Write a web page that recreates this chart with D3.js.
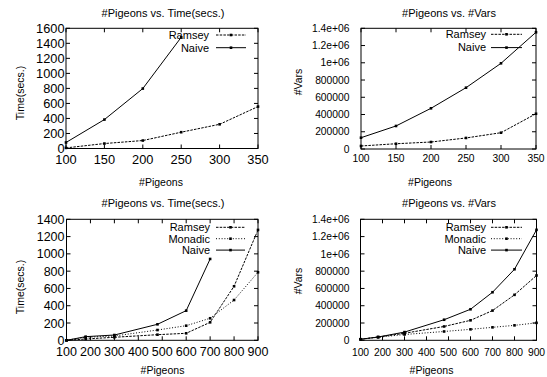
<!DOCTYPE html>
<html>
<head>
<meta charset="utf-8">
<script src="https://cdn.jsdelivr.net/npm/d3@7"></script>
<style>
  body { margin: 0; background: #fff; }
  svg { font-family: "Liberation Sans", Arial, sans-serif; }
</style>
</head>
<body>
<div id="chart"></div>
<script>
// values
var pigeonsTop = [100, 150, 200, 250, 300, 350];
var timeRamseyTop = [8, 66, 106, 217, 322, 558];
var timeNaiveTop = [80, 385, 798, 1480];
var varsRamseyTop = [35000, 61000, 81000, 128000, 189000, 409000];
var varsNaiveTop = [131000, 267000, 472000, 711000, 994000, 1354000];

var pigeonsBottom = [100, 180, 300, 480, 600, 700, 800, 900];
var timeRamseyBottom = [0, 15, 35, 65, 81, 208, 625, 1277];
var timeMonadicBottom = [0, 35, 50, 119, 169, 255, 466, 787];
var timeNaiveBottom = [0, 42, 61, 185, 343, 941];
var varsRamseyBottom = [12000, 38000, 81000, 160000, 231000, 344000, 526000, 750000];
var varsMonadicBottom = [12000, 35000, 67000, 102000, 127000, 150000, 173000, 202000];
var varsNaiveBottom = [12000, 38000, 95000, 238000, 359000, 556000, 822000, 1278000];

var xTicksTop = [100, 150, 200, 250, 300, 350];
var xTicksBottom = [100, 200, 300, 400, 500, 600, 700, 800, 900];
var timeTicksTop = [0, 200, 400, 600, 800, 1000, 1200, 1400, 1600];
var timeTicksBottom = [0, 200, 400, 600, 800, 1000, 1200, 1400];
var varsTicks = [0, 200000, 400000, 600000, 800000, 1000000, 1200000, 1400000];
var varsTickLabels = ["0", "200000", "400000", "600000", "800000", "1e+06", "1.2e+06", "1.4e+06"];

var dashes = {Ramsey: "2.5,1.2", Monadic: "1,1.8", Naive: null};

var svg = d3.select("#chart").append("svg")
    .attr("width", 547)
    .attr("height", 377);

function panel(o) {
    var g = svg.append("g");
    var x = d3.scaleLinear().domain(o.xDomain).range([o.left, o.right]);
    var y = d3.scaleLinear().domain(o.yDomain).range([o.bottom, o.top]);

    // inside ticks on all four sides
    var tk = 4;
    o.xTicks.forEach(function(t) {
        g.append("line").attr("x1", x(t)).attr("x2", x(t)).attr("y1", o.bottom).attr("y2", o.bottom - tk).attr("stroke", "#000");
        g.append("line").attr("x1", x(t)).attr("x2", x(t)).attr("y1", o.top).attr("y2", o.top + tk).attr("stroke", "#000");
        g.append("text").attr("x", x(t)).attr("y", o.xLabelY)
            .attr("text-anchor", "middle").attr("font-size", o.tickSize)
            .text(t);
    });
    o.yTicks.forEach(function(t, i) {
        g.append("line").attr("x1", o.left).attr("x2", o.left + tk).attr("y1", y(t)).attr("y2", y(t)).attr("stroke", "#000");
        g.append("line").attr("x1", o.right).attr("x2", o.right - tk).attr("y1", y(t)).attr("y2", y(t)).attr("stroke", "#000");
        g.append("text").attr("x", o.yLabelX).attr("y", y(t) + o.tickSize * 0.36)
            .attr("text-anchor", "end").attr("font-size", o.tickSize)
            .text(o.yTickLabels ? o.yTickLabels[i] : t);
    });

    g.append("rect").attr("x", o.left).attr("y", o.top)
        .attr("width", o.right - o.left).attr("height", o.bottom - o.top)
        .attr("fill", "none").attr("stroke", "#000");

    var line = d3.line().x(function(d) { return x(d[0]); }).y(function(d) { return y(d[1]); });

    o.series.forEach(function(s, k) {
        var pts = s.values.map(function(v, i) { return [o.xs[i], v]; });
        g.append("path").datum(pts).attr("d", line)
            .attr("fill", "none").attr("stroke", "#000").attr("stroke-width", 1)
            .attr("stroke-dasharray", dashes[s.name]);
        g.selectAll(null).data(pts).enter().append("rect")
            .attr("x", function(d) { return x(d[0]) - 1.3; })
            .attr("y", function(d) { return y(d[1]) - 1.3; })
            .attr("width", 2.6).attr("height", 2.6).attr("fill", "#000");

        // legend entry
        var ly = o.legendY + k * o.legendStep;
        g.append("text").attr("x", o.legendText).attr("y", ly + 3.8)
            .attr("text-anchor", "end").attr("font-size", 11).text(s.name);
        g.append("line").attr("x1", o.legendLine[0]).attr("x2", o.legendLine[1])
            .attr("y1", ly).attr("y2", ly).attr("stroke", "#000")
            .attr("stroke-dasharray", dashes[s.name]);
        g.append("rect").attr("x", (o.legendLine[0] + o.legendLine[1]) / 2 - 1.3).attr("y", ly - 1.3)
            .attr("width", 2.6).attr("height", 2.6).attr("fill", "#000");
    });

    g.append("text").attr("x", o.titleX).attr("y", o.titleY)
        .attr("text-anchor", "middle").attr("font-size", 11).text(o.title);
    g.append("text").attr("x", o.xTitleX).attr("y", o.xTitleY)
        .attr("text-anchor", "middle").attr("font-size", 10.5).text("#Pigeons");
    g.append("text").attr("transform", "translate(" + o.yTitle[0] + "," + o.yTitle[1] + ") rotate(-90)")
        .attr("text-anchor", "middle").attr("font-size", 10.5).text(o.yTitleText);
}

panel({
    left: 66, right: 258, top: 28.3, bottom: 148.5,
    xDomain: [100, 350], yDomain: [0, 1600],
    xTicks: xTicksTop, yTicks: timeTicksTop,
    tickSize: 12.8, xLabelY: 163.5, yLabelX: 64.5,
    xs: pigeonsTop,
    series: [{name: "Ramsey", values: timeRamseyTop}, {name: "Naive", values: timeNaiveTop}],
    legendText: 209, legendLine: [216, 246], legendY: 35, legendStep: 12.7,
    title: "#Pigeons vs. Time(secs.)", titleX: 163, titleY: 17,
    xTitleX: 161, xTitleY: 186, yTitle: [24, 93], yTitleText: "Time(secs.)"
});

panel({
    left: 361, right: 536, top: 28.3, bottom: 149,
    xDomain: [100, 350], yDomain: [0, 1400000],
    xTicks: xTicksTop, yTicks: varsTicks, yTickLabels: varsTickLabels,
    tickSize: 10.3, xLabelY: 162, yLabelX: 349.5,
    xs: pigeonsTop,
    series: [{name: "Ramsey", values: varsRamseyTop}, {name: "Naive", values: varsNaiveTop}],
    legendText: 486, legendLine: [491, 522], legendY: 34.3, legendStep: 13.3,
    title: "#Pigeons vs. #Vars", titleX: 449, titleY: 17,
    xTitleX: 430, xTitleY: 186, yTitle: [302, 82], yTitleText: "#Vars"
});

panel({
    left: 66.5, right: 258, top: 219.3, bottom: 340.3,
    xDomain: [100, 900], yDomain: [0, 1400],
    xTicks: xTicksBottom, yTicks: timeTicksBottom,
    tickSize: 12.5, xLabelY: 356, yLabelX: 64.5,
    xs: pigeonsBottom,
    series: [{name: "Ramsey", values: timeRamseyBottom}, {name: "Monadic", values: timeMonadicBottom}, {name: "Naive", values: timeNaiveBottom}],
    legendText: 210, legendLine: [216, 245], legendY: 227.3, legendStep: 11.4,
    title: "#Pigeons vs. Time(secs.)", titleX: 163, titleY: 207,
    xTitleX: 162.5, xTitleY: 374, yTitle: [24, 287], yTitleText: "Time(secs.)"
});

panel({
    left: 360.5, right: 536.5, top: 219.3, bottom: 340.3,
    xDomain: [100, 900], yDomain: [0, 1400000],
    xTicks: xTicksBottom, yTicks: varsTicks, yTickLabels: varsTickLabels,
    tickSize: 10.3, xLabelY: 355.5, yLabelX: 349.5,
    xs: pigeonsBottom,
    series: [{name: "Ramsey", values: varsRamseyBottom}, {name: "Monadic", values: varsMonadicBottom}, {name: "Naive", values: varsNaiveBottom}],
    legendText: 486, legendLine: [491, 522], legendY: 227.3, legendStep: 11.4,
    title: "#Pigeons vs. #Vars", titleX: 449, titleY: 207,
    xTitleX: 431.5, xTitleY: 374, yTitle: [302, 281], yTitleText: "#Vars"
});
</script>
</body>
</html>
